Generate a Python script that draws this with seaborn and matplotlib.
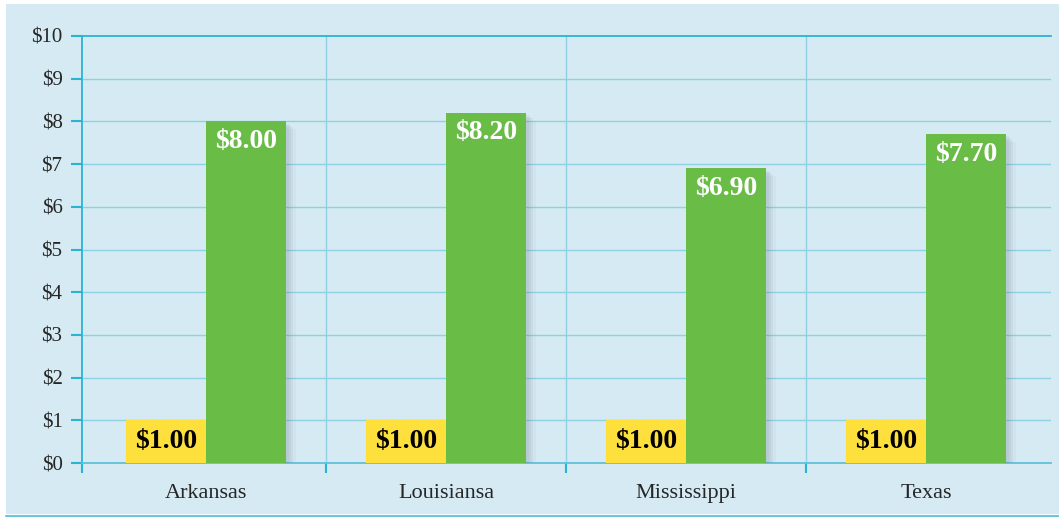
import matplotlib
matplotlib.use("Agg")
import matplotlib.pyplot as plt
import matplotlib.patheffects as pe
from matplotlib.patches import Rectangle
from matplotlib.lines import Line2D
import seaborn as sns
import pandas as pd

states = ["Arkansas", "Louisiansa", "Mississippi", "Texas"]
series_a = [1.00, 1.00, 1.00, 1.00]
series_b = [8.00, 8.20, 6.90, 7.70]
series_names = ["A", "B"]
y_ticks = [0, 1, 2, 3, 4, 5, 6, 7, 8, 9, 10]
y_labels = ["$0", "$1", "$2", "$3", "$4", "$5", "$6", "$7", "$8", "$9", "$10"]

bg = "#d5eaf2"
yellow = "#fde03c"
green = "#69bd47"
grid_c = "#8fd1e3"
spine_c = "#2ab3d4"

df = pd.DataFrame({
    "state": states * 2,
    "value": series_a + series_b,
    "series": [series_names[0]] * 4 + [series_names[1]] * 4,
})

sns.set_style("white")
plt.rcParams["font.family"] = ["Liberation Serif", "DejaVu Serif"]

W, H = 1059, 518
fig = plt.figure(figsize=(W / 100, H / 100), dpi=100, facecolor="white")
fig.patches.append(Rectangle((6 / W, 4 / H), 1 - 6 / W, 1 - 8 / H,
                             transform=fig.transFigure, facecolor=bg,
                             edgecolor="none", zorder=-10))
fig.lines.append(Line2D([6 / W, 1], [2 / H, 2 / H], transform=fig.transFigure,
                        color="#6cc6dc", lw=1.5))

ax = fig.add_axes([82 / W, (H - 463) / H, (1051 - 82) / W, 427 / H])
ax.set_facecolor(bg)

sns.barplot(data=df, x="state", y="value", hue="series", order=states,
            hue_order=series_names, palette=[yellow, green], width=0.667,
            saturation=1, legend=False, ax=ax, zorder=3)

x0 = -0.5 - 4 / 240
x1 = 3.5 + 5 / 240
ax.set_xlim(x0, x1)
ax.set_ylim(0, 10)

# soft shadows
for p in ax.patches:
    effects = []
    for off, a in [(7, 0.04), (5, 0.06), (3.5, 0.08), (2, 0.08)]:
        effects.append(pe.SimplePatchShadow(offset=(off, -off * 0.8), shadow_rgbFace="#5a6a78", alpha=a))
    effects.append(pe.Normal())
    p.set_path_effects(effects)
    p.set_edgecolor("none")

# horizontal grid
ax.set_yticks(y_ticks)
ax.set_yticklabels(y_labels, fontsize=15)
for v in y_ticks[1:-1]:
    ax.axhline(v, color=grid_c, lw=1, zorder=1)

# vertical separators
ax.set_xticks([x0, 0.5, 1.5, 2.5])
ax.set_xticklabels([])
for b in [0.5, 1.5, 2.5]:
    ax.axvline(b, color=grid_c, lw=1, zorder=1)
ax.set_xticks(range(len(states)), minor=True)
ax.set_xticklabels(states, minor=True, fontsize=16)
ax.tick_params(axis="x", which="minor", length=0, pad=15, bottom=True)
ax.tick_params(axis="x", which="major", length=7, width=1.5, color=spine_c,
               direction="out", bottom=True)
ax.tick_params(axis="y", length=8, width=1.5, color=spine_c, direction="out",
               pad=6, left=True)
ax.set_xlabel("")
ax.set_ylabel("")

for s in ["left", "top", "bottom"]:
    ax.spines[s].set_color(spine_c)
    ax.spines[s].set_linewidth(1.3)
    ax.spines[s].set_visible(True)
ax.spines["bottom"].set_color("#5fc2da")
ax.spines["right"].set_visible(False)

# value labels
for cont, vals, col in zip(ax.containers, [series_a, series_b], ["black", "white"]):
    for bar, v in zip(cont, vals):
        cx = bar.get_x() + bar.get_width() / 2
        if col == "black":
            ax.text(cx, v / 2, f"${v:.2f}", ha="center", va="center",
                    fontsize=20, fontweight="bold", color=col, zorder=5)
        else:
            ax.annotate(f"${v:.2f}", (cx, v), xytext=(0, -5.5), textcoords="offset points",
                        ha="center", va="top", fontsize=20, fontweight="bold",
                        color=col, zorder=5)

fig.savefig("out.png", dpi=100, facecolor="white")
